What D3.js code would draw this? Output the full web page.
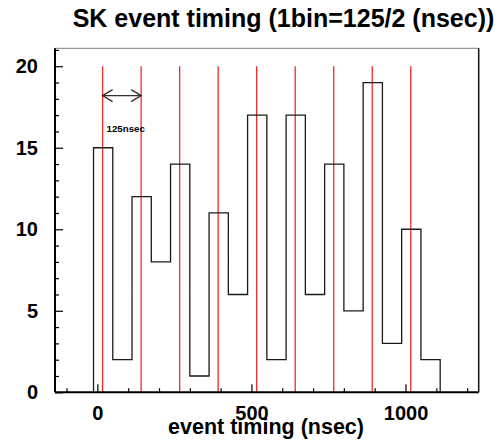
<!DOCTYPE html>
<html>
<head>
<meta charset="utf-8">
<script src="https://cdn.jsdelivr.net/npm/d3@7"></script>
<style>
  html, body { margin: 0; padding: 0; background: #fff; }
  svg { display: block; }
  text { font-family: "Liberation Sans", Arial, Helvetica, sans-serif; font-weight: bold; fill: #000; }
</style>
</head>
<body>
<svg id="chart" width="503" height="441"></svg>
<script>
// Histogram of SK event times, 1 bin = 125/2 ns
const binStart = -12.5;          // ns, left edge of the first bin
const binWidth = 62.5;           // ns
const counts = [15, 2, 12, 8, 14, 1, 11, 6, 17, 2, 17, 6, 14, 5, 19, 3, 10, 2];

// Bunch timing markers, every 125 ns
const markerTimes = [17, 142, 267, 392, 517, 642, 767, 892, 1017];
const markerTop = 20;

// Annotation for the bunch spacing
const spacingLabel = "125nsec";
const spacingFrom = 17, spacingTo = 142, spacingLevel = 18.2;

const xMajorTicks = [0, 500, 1000];
const xMinorTicks = [-100, 100, 200, 300, 400, 600, 700, 800, 900, 1100, 1200];
const yMajorTicks = [0, 5, 10, 15, 20];
const yMinorTicks = [1, 2, 3, 4, 6, 7, 8, 9, 11, 12, 13, 14, 16, 17, 18, 19, 21];

const titleText = "SK event timing (1bin=125/2 (nsec))";
const xTitle = "event timing (nsec)";

const svg = d3.select("#chart");

const frame = { left: 55, right: 478.7, top: 48.3, bottom: 392.3 };
const x = d3.scaleLinear().domain([-137.5, 1237.5]).range([frame.left, frame.right]);
const y = d3.scaleLinear().domain([0, 21.1]).range([frame.bottom, frame.top]);

// frame: light top edge, dark right edge
svg.append("line")
  .attr("x1", frame.left).attr("x2", frame.right)
  .attr("y1", frame.top).attr("y2", frame.top)
  .attr("stroke", "#999").attr("stroke-width", 1.2);
svg.append("line")
  .attr("x1", frame.right).attr("x2", frame.right)
  .attr("y1", frame.top).attr("y2", frame.bottom)
  .attr("stroke", "#111").attr("stroke-width", 1.5);

// red marker lines
svg.append("g").selectAll("line").data(markerTimes).join("line")
  .attr("x1", d => x(d)).attr("x2", d => x(d))
  .attr("y1", y(markerTop)).attr("y2", y(0))
  .attr("stroke", "#ee2a2a").attr("stroke-width", 1.3);

// histogram outline (no baseline segment)
const pts = [[x(binStart), y(0)]];
counts.forEach((c, i) => {
  const x0 = binStart + i * binWidth, x1 = x0 + binWidth;
  pts.push([x(x0), y(c)], [x(x1), y(c)]);
});
pts.push([x(binStart + counts.length * binWidth), y(0)]);
svg.append("path")
  .attr("d", d3.line()(pts))
  .attr("fill", "none").attr("stroke", "#1a1a1a").attr("stroke-width", 1.3);

// double-headed arrow with open heads
const ay = y(spacingLevel);
const ax0 = x(spacingFrom), ax1 = x(spacingTo);
const arrow = svg.append("g").attr("stroke", "#333").attr("stroke-width", 1.4).attr("fill", "none");
arrow.append("line").attr("x1", ax0).attr("x2", ax1).attr("y1", ay).attr("y2", ay);
arrow.append("path").attr("d", `M${ax0 + 10},${ay - 6}L${ax0},${ay}L${ax0 + 10},${ay + 6}`);
arrow.append("path").attr("d", `M${ax1 - 10},${ay - 6}L${ax1},${ay}L${ax1 - 10},${ay + 6}`);
svg.append("text")
  .attr("x", ax0 + 4).attr("y", 131.5)
  .attr("font-size", 9.7)
  .text(spacingLabel);

// x axis: ticks point inward (up)
const gx = svg.append("g").attr("transform", `translate(0,${frame.bottom})`);
gx.call(d3.axisBottom(x).tickValues(xMajorTicks).tickSize(-8).tickPadding(14).tickFormat(d3.format("d")));
gx.append("g").call(d3.axisBottom(x).tickValues(xMinorTicks).tickSize(-4).tickFormat(""));
gx.selectAll(".domain").remove();
gx.selectAll("line").attr("stroke", "#000").attr("stroke-width", 1.2);
gx.selectAll("text").attr("font-size", 20).attr("fill", "#000")
  .attr("font-family", "Liberation Sans, Arial, sans-serif").attr("font-weight", "bold");
svg.append("line")
  .attr("x1", frame.left).attr("x2", frame.right)
  .attr("y1", frame.bottom).attr("y2", frame.bottom)
  .attr("stroke", "#000").attr("stroke-width", 2);

// y axis: ticks point inward (right)
const gy = svg.append("g").attr("transform", `translate(${frame.left},0)`);
gy.call(d3.axisLeft(y).tickValues(yMajorTicks).tickSize(-8).tickPadding(17).tickFormat(d3.format("d")));
gy.append("g").call(d3.axisLeft(y).tickValues(yMinorTicks).tickSize(-4).tickFormat(""));
gy.selectAll(".domain").remove();
gy.selectAll("line").attr("stroke", "#000").attr("stroke-width", 1.2);
gy.selectAll("text").attr("font-size", 20).attr("fill", "#000")
  .attr("font-family", "Liberation Sans, Arial, sans-serif").attr("font-weight", "bold");
svg.append("line")
  .attr("x1", frame.left).attr("x2", frame.left)
  .attr("y1", frame.top).attr("y2", frame.bottom)
  .attr("stroke", "#000").attr("stroke-width", 2);

// titles
svg.append("text")
  .attr("x", 283.5).attr("y", 27)
  .attr("text-anchor", "middle").attr("font-size", 25)
  .text(titleText);
svg.append("text")
  .attr("x", 266).attr("y", 433.5)
  .attr("text-anchor", "middle").attr("font-size", 21.5)
  .text(xTitle);
</script>
</body>
</html>
